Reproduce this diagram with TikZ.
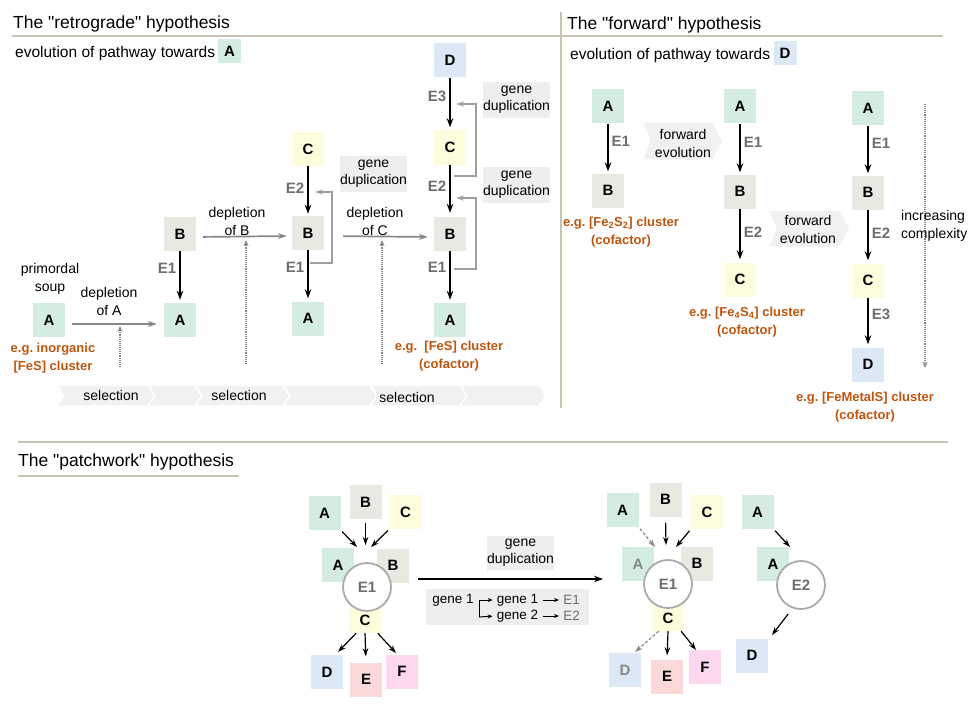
\documentclass[tikz,border=0pt]{standalone}
\usepackage{fontspec}
\setmainfont{Liberation Sans}[Ligatures=TeXOff]
\usepackage{tikz}
\usetikzlibrary{arrows.meta}
\definecolor{cA}{RGB}{212,237,224}
\definecolor{cB}{RGB}{232,234,225}
\definecolor{cC}{RGB}{253,253,222}
\definecolor{cD}{RGB}{220,232,245}
\definecolor{cE}{RGB}{251,217,217}
\definecolor{cF}{RGB}{252,215,238}
\definecolor{dupgray}{RGB}{238,238,238}
\definecolor{chevgray}{RGB}{241,241,241}
\definecolor{orng}{RGB}{190,85,15}
\definecolor{labgray}{RGB}{110,110,110}
\definecolor{arrgray}{RGB}{135,135,135}
\definecolor{rulecol}{RGB}{200,195,178}
\definecolor{circgray}{RGB}{170,170,170}
\tikzset{
	mol node/.style={minimum width=32pt,minimum height=34pt,inner sep=0pt,font=\fontsize{15}{15}\selectfont\bfseries},
	small mol/.style={mol node,minimum width=23pt,minimum height=24pt},
	enz node/.style={circle,draw=circgray,line width=1.8pt,fill=white,minimum size=48pt,inner sep=0pt,text=labgray,font=\fontsize{15}{15}\selectfont\bfseries},
	text node/.style={inner sep=0pt,align=center,font=\fontsize{14}{18}\selectfont},
	title node/.style={inner sep=0pt,anchor=west,font=\fontsize{17.5}{17.5}\selectfont},
	ex node/.style={inner sep=0pt,align=center,text=orng,font=\fontsize{13}{18}\selectfont\bfseries},
	enz label/.style={inner sep=3pt,text=labgray,font=\fontsize{15}{15}\selectfont\bfseries},
	dup node/.style={fill=dupgray,inner sep=0pt,align=center,minimum width=67pt,minimum height=36pt,font=\fontsize{14}{17}\selectfont},
	gene node/.style={inner sep=2pt,font=\fontsize{13.5}{13.5}\selectfont},
	chev/.style={fill=chevgray,draw=white,line width=1.5pt},
	rule/.style={draw=rulecol,line width=2pt},
	main arrow/.style={-{Stealth[length=9pt,width=6.5pt]},line width=1.7pt},
	grey arrow/.style={-{Stealth[length=9pt,width=6pt]},draw=arrgray,line width=1.7pt},
	loop arrow/.style={-{Stealth[length=8pt,width=5pt]},draw=arrgray!80,line width=1.2pt},
	dot arrow/.style={-{Stealth[length=6pt,width=5pt]},draw=arrgray,densely dotted,line width=1.1pt},
	patch arrow/.style={-{Stealth[length=8pt,width=5.5pt]},line width=1.2pt},
	ghost arrow/.style={patch arrow,draw=arrgray,dash pattern=on 3pt off 2pt},
	small arrow/.style={-{Stealth[length=5pt,width=4pt]},line width=1pt}
}
\frenchspacing

\begin{document}
\begin{tikzpicture}[x=1pt,y=-1pt]
	\useasboundingbox (0,0) rectangle (969,706);
	% frame lines
	\draw[rule] (12,36.5) -- (943,36.5);
	\draw[rule] (561,12) -- (561,408);
	\draw[rule] (18,442) -- (948,442);
	\draw[rule] (18,476) -- (239,476);
	\node[title node] (t1) at (13,24) {The "retrograde" hypothesis};
	\node[title node] (t2) at (567,25) {The "forward" hypothesis};
	\node[title node] (t3) at (18,462) {The "patchwork" hypothesis};

	% retrograde
	\node[text node,anchor=west,font=\fontsize{15.5}{15.5}\selectfont] (ev1) at (15,53) {evolution of pathway towards};
	\node[small mol,fill=cA] (evA) at (229.5,51) {A};
	\foreach \a/\b in {57/148,148/195,195/283,283/370,370/460,460/539}
		\filldraw[chev] (\a,385) -- (\b,385) -- (\b+7,395.5) -- (\b,406) -- (\a,406) -- (\a+7,395.5) -- cycle;
	\node[text node] (sel1) at (111,395) {selection};
	\node[text node] (sel2) at (239,395) {selection};
	\node[text node] (sel3) at (407,397) {selection};

	\node[mol node,fill=cA] (A0) at (49,320) {A};
	\node[text node] (soup) at (50,278.5) {primordal\\soup};
	\node[ex node] (ex0) at (53,358.5) {e.g. inorganic\\{[FeS]} cluster};
	\node[mol node,fill=cB] (B1) at (180,234) {B};
	\node[mol node,fill=cA] (A1) at (180,320) {A};
	\node[mol node,fill=cC] (C2) at (308,149) {C};
	\node[mol node,fill=cB] (B2) at (308,233) {B};
	\node[mol node,fill=cA] (A2) at (308,318.5) {A};
	\node[mol node,fill=cD] (D3) at (450,60.5) {D};
	\node[mol node,fill=cC] (C3) at (450,147.5) {C};
	\node[mol node,fill=cB] (B3) at (450,234) {B};
	\node[mol node,fill=cA] (A3) at (450,320) {A};
	\node[ex node] (ex3) at (449,356) {e.g.\ \ [FeS] cluster\\(cofactor)};

	\draw[main arrow,shorten >=3pt] (B1) -- node[enz label,left,pos=0.33] {E1} (A1);
	\draw[main arrow,shorten >=2pt] (C2) -- node[enz label,left,pos=0.45] {E2} (B2);
	\draw[main arrow,shorten >=3pt] (B2) -- node[enz label,left,pos=0.33] {E1} (A2);
	\draw[main arrow,shorten >=3pt] (D3) -- node[enz label,left,pos=0.35] {E3} (C3);
	\draw[main arrow,shorten >=4pt] (C3) -- node[enz label,left,pos=0.42] {E2} (B3);
	\draw[main arrow,shorten >=3pt] (B3) -- node[enz label,left,pos=0.31] {E1} (A3);

	\draw[grey arrow,shorten <=7pt,shorten >=7pt] ([yshift=-4pt]A0.east) -- ([yshift=-4pt]A1.west);
	\draw[grey arrow,shorten <=7pt,shorten >=5pt] ([yshift=-3pt]B1.east) -- ([yshift=-3pt]B2.west);
	\draw[grey arrow,shorten <=19pt,shorten >=6pt] ([yshift=-3pt]B2.east) -- ([yshift=-3pt]B3.west);
	\node[text node] (dA) at (109,301.5) {depletion\\of A};
	\node[text node] (dB) at (237,221.5) {depletion\\of B};
	\node[text node] (dC) at (375,221.5) {depletion\\of C};
	\foreach \x/\yb/\yt [count=\i] in {120/367/326,246/364/240,382/364/240}{
		\coordinate (up\i) at (\x,\yb);
		\coordinate (tip\i) at (\x,\yt);
		\draw[dot arrow] (up\i) -- (tip\i);
	}

	% gene duplication loops
	\coordinate (lp1) at (310,263);
	\coordinate (lp1e) at (315,192);
	\coordinate (lp2) at (454,176);
	\coordinate (lp2e) at (456,104);
	\coordinate (lp3) at (454,269);
	\coordinate (lp3e) at (456,198);
	\draw[loop arrow] (lp1) -- ++(22,0) |- (lp1e);
	\draw[loop arrow] (lp2) -- ++(22,0) |- (lp2e);
	\draw[loop arrow] (lp3) -- ++(22,0) |- (lp3e);
	\node[dup node] (gd1) at (373.5,174) {gene\\duplication};
	\node[dup node] (gd2) at (516.5,100) {gene\\duplication};
	\node[dup node] (gd3) at (516.5,185) {gene\\duplication};

	% forward
	\node[text node,anchor=west,font=\fontsize{15.5}{15.5}\selectfont] (ev2) at (570,55) {evolution of pathway towards};
	\node[small mol,fill=cD] (evD) at (785,53) {D};
	\filldraw[chev] (642,122) -- (713,122) -- (723,141) -- (713,160) -- (642,160) -- (650,141) -- cycle;
	\filldraw[chev] (768,210) -- (840,210) -- (850,228.5) -- (840,247) -- (768,247) -- (776,228.5) -- cycle;
	\node[text node] (fw1) at (683,143) {forward\\evolution};
	\node[text node] (fw2) at (808,229) {forward\\evolution};

	\node[mol node,fill=cA] (fA1) at (608,106.5) {A};
	\node[mol node,fill=cB] (fB1) at (608,190.5) {B};
	\node[ex node] (exF1) at (621,232) {e.g. [Fe\textsubscript{2}S\textsubscript{2}] cluster\\(cofactor)};
	\node[mol node,fill=cA] (fA2) at (740,106.5) {A};
	\node[mol node,fill=cB] (fB2) at (740,191.5) {B};
	\node[mol node,fill=cC] (fC2) at (740,279.5) {C};
	\node[ex node] (exF2) at (747,322.5) {e.g. [Fe\textsubscript{4}S\textsubscript{4}] cluster\\(cofactor)};
	\node[mol node,fill=cA] (fA3) at (868,108.5) {A};
	\node[mol node,fill=cB] (fB3) at (868,192.5) {B};
	\node[mol node,fill=cC] (fC3) at (868,280.5) {C};
	\node[mol node,fill=cD] (fD3) at (868,364.5) {D};
	\node[ex node] (exF3) at (865,407.5) {e.g. [FeMetalS] cluster\\(cofactor)};

	\draw[main arrow,line width=1.4pt,shorten >=2pt] (fA1) -- node[enz label,right,pos=0.36] {E1} (fB1);
	\draw[main arrow,shorten >=2pt] (fA2) -- node[enz label,right,pos=0.36] {E1} (fB2);
	\draw[main arrow,shorten >=3pt] (fB2) -- node[enz label,right,pos=0.44] {E2} (fC2);
	\draw[main arrow,shorten >=2pt] (fA3) -- node[enz label,right,pos=0.36] {E1} (fB3);
	\draw[main arrow,shorten >=3pt] (fB3) -- node[enz label,right,pos=0.44] {E2} (fC3);
	\draw[main arrow,shorten >=3pt] (fC3) -- node[enz label,right,pos=0.33] {E3} (fD3);

	\coordinate (cx1) at (925,104);
	\coordinate (cx2) at (925,368);
	\draw[dot arrow] (cx1) -- (cx2);
	\node[text node,anchor=west,align=left] (cplx) at (901,226) {increasing\\complexity};

	% patchwork, one enzyme
	\node[mol node,fill=cA] (pA) at (324.5,513) {A};
	\node[mol node,fill=cB] (pB) at (365.5,502) {B};
	\node[mol node,fill=cC] (pC) at (405.5,512) {C};
	\node[mol node,fill=cA] (pAs) at (338,565) {A};
	\node[mol node,fill=cB] (pBs) at (393,565.5) {B};
	\node[mol node,fill=cC,minimum height=25pt] (pCs) at (365,620.5) {C};
	\node[enz node] (E1a) at (367,587) {E1};
	\node[mol node,fill=cD] (pD) at (327,672) {D};
	\node[mol node,fill=cE] (pE) at (366,679.5) {E};
	\node[mol node,fill=cF] (pF) at (402,671.5) {F};
	\coordinate (inA) at (357,547);
	\coordinate (inB) at (365.5,545);
	\coordinate (inC) at (371,547);
	\coordinate (outD) at (338,652);
	\coordinate (outF) at (396,653);
	\draw[patch arrow,shorten <=2pt] (pA.south east) -- (inA);
	\draw[patch arrow,shorten <=4pt] (pB.south) -- (inB);
	\draw[patch arrow,shorten <=2pt] (pC.south west) -- (inC);
	\draw[patch arrow] (pCs.235) -- (outD);
	\draw[patch arrow,shorten >=6pt] (pCs.south) -- (pE.north);
	\draw[patch arrow] (pCs.315) -- (outF);

	% duplication step
	\coordinate (dup1) at (418,579);
	\coordinate (dup2) at (603,579);
	\draw[main arrow,line width=1.6pt] (dup1) -- (dup2);
	\node[dup node,minimum width=65pt,minimum height=34pt] (gd4) at (520.5,553) {gene\\duplication};
	\node[fill=dupgray,minimum width=163pt,minimum height=36pt,inner sep=0pt] (gbox) at (507.5,607) {};
	\node[gene node] (gn0) at (453,600) {gene 1};
	\node[gene node] (gn1) at (517.5,600) {gene 1};
	\node[gene node] (gn2) at (517.5,616) {gene 2};
	\node[gene node,text=labgray] (ge1) at (571.5,600) {E1};
	\node[gene node,text=labgray] (ge2) at (571.5,616) {E2};
	\coordinate (brk) at (479,617);
	\draw[small arrow,shorten >=2pt] (brk) |- (gn1.west);
	\draw[small arrow,shorten >=2pt] (brk) -- (gn2.west);
	\draw[small arrow,shorten <=3pt,shorten >=2pt] (gn1) -- (ge1);
	\draw[small arrow,shorten <=3pt,shorten >=2pt] (gn2) -- (ge2);

	% patchwork, two enzymes
	\node[mol node,fill=cA] (qA) at (622.5,510) {A};
	\node[mol node,fill=cB] (qB) at (665.5,499.5) {B};
	\node[mol node,fill=cC] (qC) at (707,512) {C};
	\node[mol node,fill=cA,text=arrgray] (qAs) at (638,564) {A};
	\node[mol node,fill=cB] (qBs) at (697,563.5) {B};
	\node[mol node,fill=cC,minimum height=26pt] (qCs) at (668,618) {C};
	\node[enz node] (E1b) at (668,584) {E1};
	\node[mol node,fill=cD,text=arrgray] (qD) at (625,670) {D};
	\node[mol node,fill=cE] (qE) at (667,676.5) {E};
	\node[mol node,fill=cF] (qF) at (705,667) {F};
	\coordinate (inA2) at (655,547);
	\coordinate (inB2) at (666,545);
	\coordinate (inC2) at (676,547);
	\coordinate (outD2) at (635,652);
	\coordinate (outF2) at (696,650);
	\draw[ghost arrow,shorten <=2pt] (qA.south east) -- (inA2);
	\draw[patch arrow,shorten <=6pt] (qB.south) -- (inB2);
	\draw[patch arrow,shorten <=2pt] (qC.south west) -- (inC2);
	\draw[ghost arrow] (qCs.235) -- (outD2);
	\draw[patch arrow,shorten >=4pt] (qCs.south) -- (qE.north);
	\draw[patch arrow] (qCs.315) -- (outF2);

	\node[mol node,fill=cA] (rA) at (757.5,512) {A};
	\node[mol node,fill=cA] (rAs) at (773,564) {A};
	\node[enz node] (E2) at (801,585) {E2};
	\node[mol node,fill=cD] (rD) at (752,655.5) {D};
	\coordinate (inR) at (790,547);
	\coordinate (outR) at (772,635);
	\draw[patch arrow,shorten <=2pt] (rA.south east) -- (inR);
	\draw[patch arrow,shorten <=7pt] (E2.250) -- (outR);
\end{tikzpicture}
\end{document}
